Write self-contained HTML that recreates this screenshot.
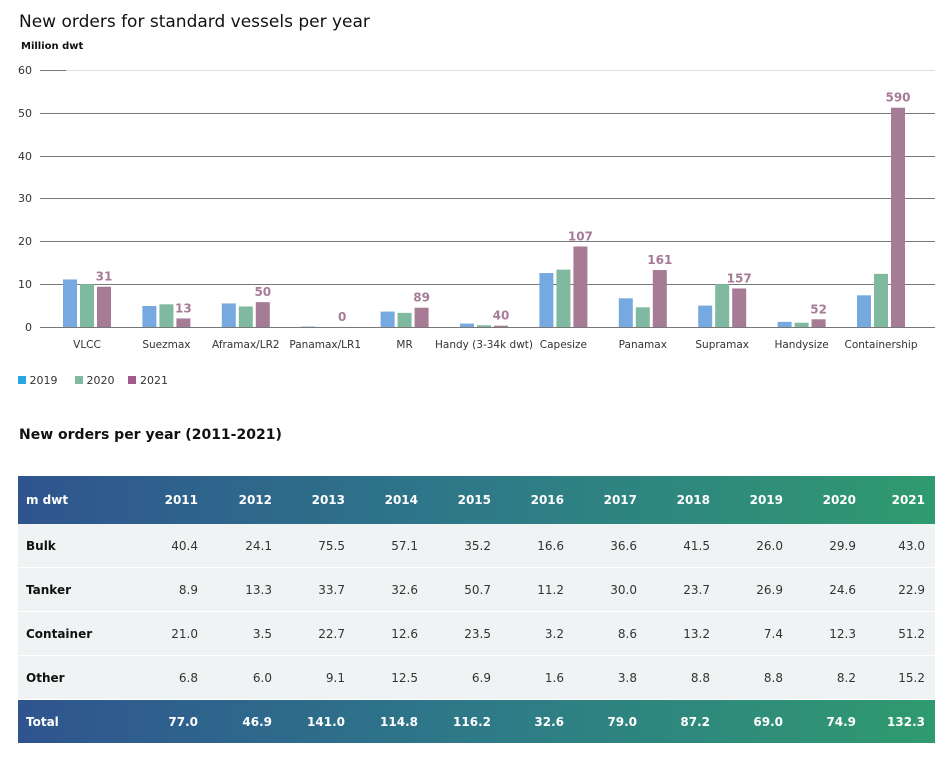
<!DOCTYPE html><html><head><style>
body{margin:0;width:948px;height:778px;background:#fff;font-family:"DejaVu Sans","Liberation Sans",sans-serif;position:relative;overflow:hidden}
.t{position:absolute;white-space:nowrap}
table{position:absolute;left:18px;top:476px;width:917px;border-collapse:collapse;font-size:12px;table-layout:fixed}
td{height:43px;padding:0 10px 0 0;text-align:right;color:#333}
td:first-child{text-align:left;padding-left:8px;font-weight:bold;color:#111}
tr.h td{color:#fff;font-weight:bold;height:48px}
tr.f td{color:#fff;font-weight:bold;height:43px}
tr.h,tr.f{background:linear-gradient(90deg,#2f548f,#2e7a88 50%,#2f9a6f)}
tr.r{background:#f0f3f4;border-bottom:1px solid #fff}
</style></head><body>
<div class="t" style="left:19px;top:12px;font-size:17px;color:#111">New orders for standard vessels per year</div>
<div class="t" style="left:21px;top:41px;font-size:10px;font-weight:bold;color:#111">Million dwt</div>
<svg style="position:absolute;left:0;top:0" width="948" height="400" font-family="DejaVu Sans,Liberation Sans,sans-serif">
<g fill="#333" font-size="11" text-anchor="end">
<text x="32" y="74">60</text><text x="32" y="117">50</text><text x="32" y="160">40</text><text x="32" y="202">30</text><text x="32" y="245">20</text><text x="32" y="288">10</text><text x="32" y="331">0</text></g>
<g stroke="#777" stroke-width="1"><line x1="40" x2="66" y1="70.5" y2="70.5"/><line x1="66" x2="935" y1="70.5" y2="70.5" stroke="#ddd"/>
<line x1="40" x2="935" y1="113.5" y2="113.5"/><line x1="40" x2="935" y1="156.5" y2="156.5"/><line x1="40" x2="935" y1="198.5" y2="198.5"/><line x1="40" x2="935" y1="241.5" y2="241.5"/><line x1="40" x2="935" y1="284.5" y2="284.5"/><line x1="40" x2="935" y1="327.5" y2="327.5"/></g>
<g id="bars"></g>
</svg>
<div class="t" style="left:18px;top:374px;font-size:11px;color:#333"><span style="display:inline-block;width:8px;height:8px;background:#2aa5df"></span> 2019 &nbsp;&nbsp;&nbsp; <span style="display:inline-block;width:8px;height:8px;background:#7fb99f"></span> 2020 &nbsp;&nbsp; <span style="display:inline-block;width:8px;height:8px;background:#a0598a"></span> 2021</div>
<div class="t" style="left:19px;top:427px;font-size:14px;font-weight:bold;color:#111">New orders per year (2011-2021)</div>
<table>
<colgroup><col style="width:120px"><col style="width:70px"><col style="width:74px"><col style="width:73px"><col style="width:73px"><col style="width:73px"><col style="width:73px"><col style="width:73px"><col style="width:73px"><col style="width:73px"><col style="width:73px"><col style="width:69px"></colgroup>
<tr class="h"><td>m dwt</td><td>2011</td><td>2012</td><td>2013</td><td>2014</td><td>2015</td><td>2016</td><td>2017</td><td>2018</td><td>2019</td><td>2020</td><td>2021</td></tr>
<tr class="r"><td>Bulk</td><td>40.4</td><td>24.1</td><td>75.5</td><td>57.1</td><td>35.2</td><td>16.6</td><td>36.6</td><td>41.5</td><td>26.0</td><td>29.9</td><td>43.0</td></tr>
<tr class="r"><td>Tanker</td><td>8.9</td><td>13.3</td><td>33.7</td><td>32.6</td><td>50.7</td><td>11.2</td><td>30.0</td><td>23.7</td><td>26.9</td><td>24.6</td><td>22.9</td></tr>
<tr class="r"><td>Container</td><td>21.0</td><td>3.5</td><td>22.7</td><td>12.6</td><td>23.5</td><td>3.2</td><td>8.6</td><td>13.2</td><td>7.4</td><td>12.3</td><td>51.2</td></tr>
<tr class="r"><td>Other</td><td>6.8</td><td>6.0</td><td>9.1</td><td>12.5</td><td>6.9</td><td>1.6</td><td>3.8</td><td>8.8</td><td>8.8</td><td>8.2</td><td>15.2</td></tr>
<tr class="f"><td>Total</td><td>77.0</td><td>46.9</td><td>141.0</td><td>114.8</td><td>116.2</td><td>32.6</td><td>79.0</td><td>87.2</td><td>69.0</td><td>74.9</td><td>132.3</td></tr>
</table>
<script>
var d=[["VLCC",11.1,10,9.4,"31"],["Suezmax",4.9,5.3,2,"13"],["Aframax/LR2",5.5,4.8,5.8,"50"],["Panamax/LR1",0.1,0,0,"0"],["MR",3.6,3.3,4.5,"89"],["Handy (3-34k dwt)",0.8,0.4,0.3,"40"],["Capesize",12.6,13.4,18.8,"107"],["Panamax",6.7,4.6,13.3,"161"],["Supramax",5,10,9,"157"],["Handysize",1.2,1,1.8,"52"],["Containership",7.4,12.4,51.2,"590"]];
var c=["#76a9e0","#7fb99f","#a67b96"],s="";
d.forEach(function(r,i){var cx=87+i*79.4;for(var k=0;k<3;k++){var h=r[k+1]*4.283;s+='<rect x="'+(cx-24+k*17)+'" y="'+(327-h)+'" width="14" height="'+h+'" fill="'+c[k]+'"/>';}
var top=327-r[3]*4.283;s+='<text x="'+(cx+17)+'" y="'+(top-6)+'" fill="#a67b96" font-size="12" font-weight="bold" text-anchor="middle">'+r[4]+'</text>';
s+='<text x="'+cx+'" y="348" fill="#333" font-size="10.5" text-anchor="middle">'+r[0]+'</text>';});
document.getElementById("bars").innerHTML=s;
</script>
</body></html>
